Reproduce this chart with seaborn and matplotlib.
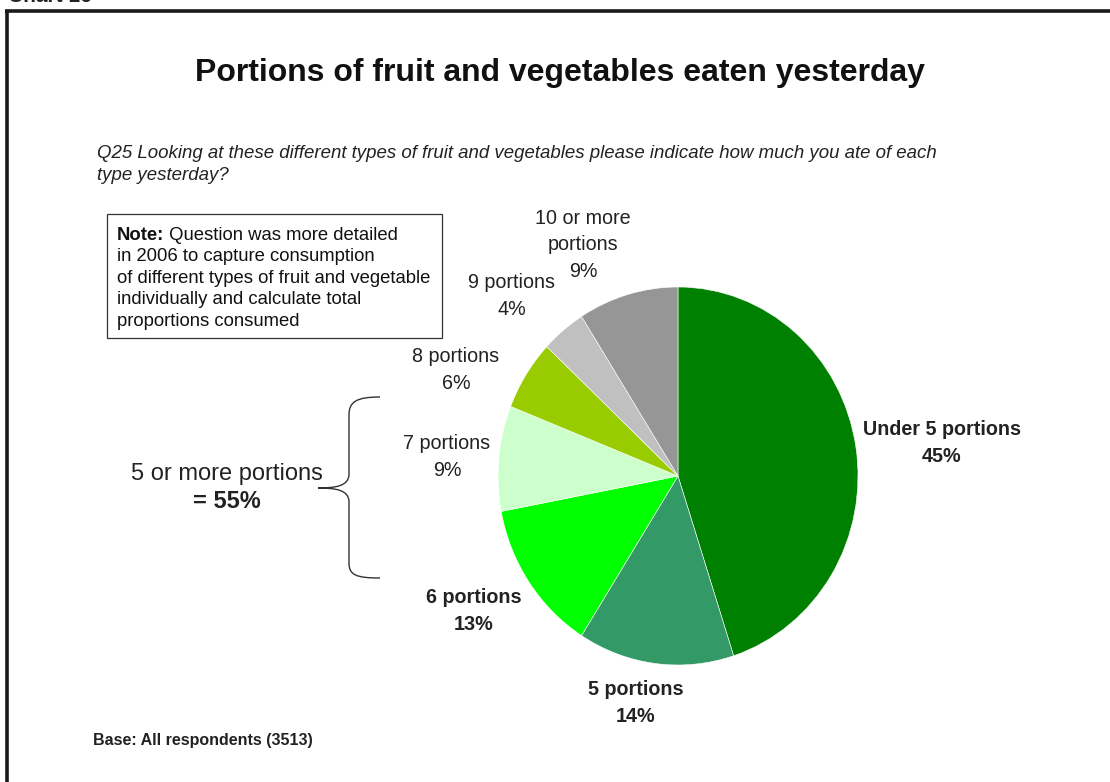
import matplotlib
matplotlib.use("Agg")
import matplotlib.pyplot as plt
import seaborn as sns
from matplotlib.path import Path
from matplotlib.patches import PathPatch, Rectangle

sns.set_theme(style="white")
plt.rcParams["font.family"] = ["Liberation Sans", "DejaVu Sans"]

# Share of respondents by portions eaten yesterday
categories = ["Under 5 portions", "5 portions", "6 portions", "7 portions",
              "8 portions", "9 portions", "10 or more\nportions"]
shares = [45, 14, 13, 9, 6, 4, 9]
colors = ["#008000", "#339966", "#00FF00", "#CCFFCC", "#99CC00", "#C0C0C0", "#969696"]
bold_labels = [True, True, True, False, False, False, False]
five_plus_total = sum(shares[1:])

W, H = 1110, 782
fig = plt.figure(figsize=(W / 100, H / 100), dpi=100)
fig.patch.set_facecolor("white")

# Overlay axes in pixel coordinates for annotations
ov = fig.add_axes([0, 0, 1, 1])
ov.set_xlim(0, W)
ov.set_ylim(H, 0)
ov.axis("off")

# Pie axes
cx, cy, rx, ry = 678, 476, 180, 189
pax = fig.add_axes([(cx - rx) / W, (H - cy - ry) / H, 2 * rx / W, 2 * ry / H])
pax.pie(shares, colors=colors, startangle=90, counterclock=False,
        wedgeprops=dict(edgecolor="white", linewidth=0.4))
pax.set_xlim(-1, 1)
pax.set_ylim(-1, 1)
pax.set_aspect("auto")
pax.axis("off")

# Outer frame
ov.plot([6.5, 6.5], [10.5, H + 5], color="#1a1a1a", lw=2.6, solid_capstyle="butt")
ov.plot([5, W + 5], [10.5, 10.5], color="#1a1a1a", lw=2.6, solid_capstyle="butt")
ov.text(8, 2, "Chart 16", fontsize=15, fontweight="bold", ha="left", va="baseline",
        color="#222222")

# Title and question
ov.text(560, 73, "Portions of fruit and vegetables eaten yesterday", fontsize=23,
        fontweight="bold", ha="center", va="center", color="#111111")
ov.text(97, 153, "Q25 Looking at these different types of fruit and vegetables please "
        "indicate how much you ate of each", fontsize=13.4, style="italic",
        ha="left", va="center", color="#222222")
ov.text(97, 175, "type yesterday?", fontsize=13.4, style="italic",
        ha="left", va="center", color="#222222")

# Note box
ov.add_patch(Rectangle((107, 214), 335, 124, fill=False, edgecolor="#333333", lw=0.9))
note_lines = ["Question was more detailed", "in 2006 to capture consumption",
              "of different types of fruit and vegetable",
              "individually and calculate total", "proportions consumed"]
t = ov.text(117, 235, "Note:", fontsize=13.3, fontweight="bold", ha="left",
            va="center", color="#111111")
ov.annotate(" " + note_lines[0], xy=(1, 0.5), xycoords=t, fontsize=13.3,
            ha="left", va="center", color="#111111")
for i, line in enumerate(note_lines[1:], start=1):
    ov.text(117, 235 + i * 21.6, line, fontsize=13.3, ha="left", va="center",
            color="#111111")

# Slice labels
label_pos = [(942, 443), (636, 703), (474, 611), (447, 457),
             (456, 370), (512, 296), (583, 245)]
for name, val, (x, y), b in zip(categories, shares, label_pos, bold_labels):
    ov.text(x, y, f"{name}\n{val}%", fontsize=14.2, ha="center", va="center",
            fontweight="bold" if b else "normal", color="#222222",
            linespacing=1.52)

# Grouping brace
verts = [(380, 397), (356, 397), (349, 402), (349, 415),
         (349, 474),
         (349, 486), (336, 488), (318, 488),
         (336, 488), (349, 490), (349, 502),
         (349, 563),
         (349, 575), (356, 578), (380, 578)]
codes = [Path.MOVETO, Path.CURVE4, Path.CURVE4, Path.CURVE4,
         Path.LINETO,
         Path.CURVE4, Path.CURVE4, Path.CURVE4,
         Path.CURVE4, Path.CURVE4, Path.CURVE4,
         Path.LINETO,
         Path.CURVE4, Path.CURVE4, Path.CURVE4]
ov.add_patch(PathPatch(Path(verts, codes), fill=False, edgecolor="#333333", lw=1.0))

ov.text(227, 474, "5 or more portions", fontsize=17, ha="center", va="center",
        color="#222222")
ov.text(227, 502, f"= {five_plus_total}%", fontsize=17, fontweight="bold",
        ha="center", va="center", color="#222222")

ov.text(93, 741, "Base: All respondents (3513)", fontsize=11.5, fontweight="bold",
        ha="left", va="center", color="#222222")

fig.savefig("out.png", dpi=100, facecolor="white")
